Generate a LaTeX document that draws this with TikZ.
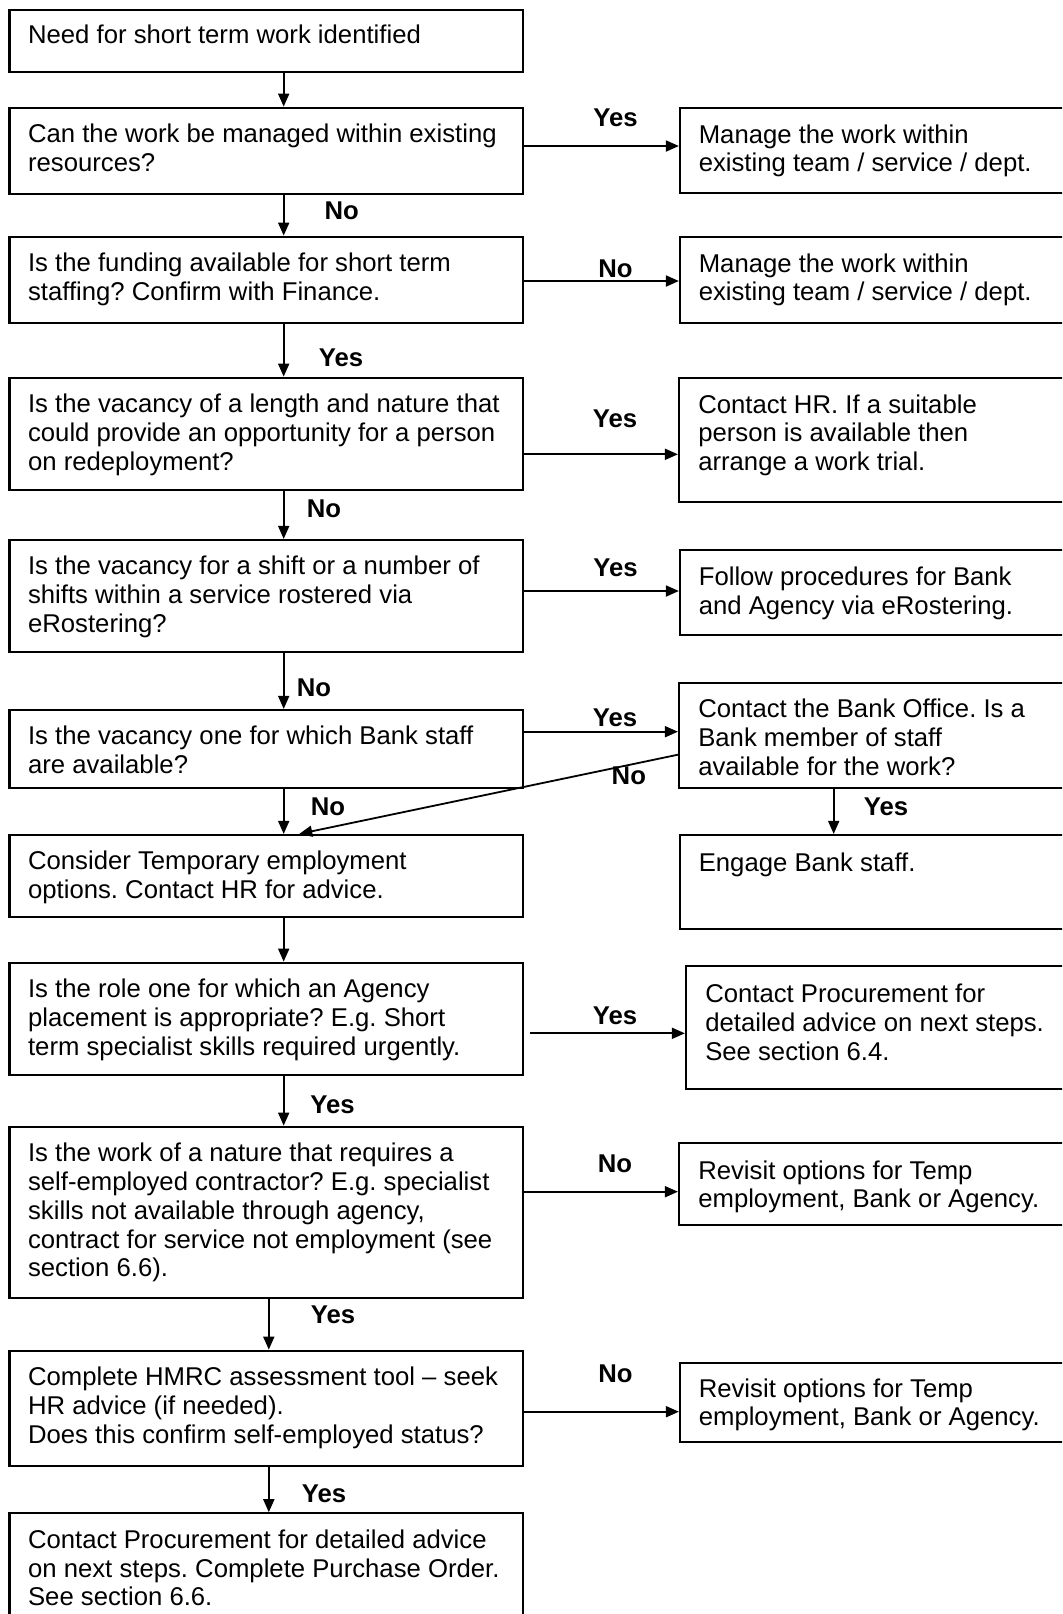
\documentclass[tikz,border=0pt]{standalone}
\usepackage{fontspec}
\setmainfont{Liberation Sans}
\frenchspacing
\usetikzlibrary{fit,arrows.meta}
\tikzset{
	box/.style={draw, line width=1.1pt, inner sep=0pt},
	txt/.style={anchor=north west, align=left, inner sep=0pt, font=\fontsize{12.85}{14.4}\selectfont},
	lbl/.style={inner sep=0pt, font=\fontsize{12.85}{14.4}\selectfont\bfseries},
	arr/.style={line width=0.9pt, -{Triangle[length=6.5pt,width=5.5pt]}},
}

\begin{document}
\begin{tikzpicture}[x=0.5pt, y=-0.5pt]
\fill[white] (0,0) rectangle (1062,1614);
\useasboundingbox (0,0) rectangle (1062,1614);
\clip (0,0) rectangle (1062,1614);
% left column
\node[box, fit={(9.5,10) (523,72.3)}] (need) {};
\node[box, fit={(9.5,107.7) (523,194)}] (existing) {};
\node[box, fit={(9.5,236.7) (523,322.7)}] (funding) {};
\node[box, fit={(9.5,377.7) (523,490)}] (redeploy) {};
\node[box, fit={(9.5,540) (523,651.7)}] (shift) {};
\node[box, fit={(9.5,710) (523,787.7)}] (bank) {};
\node[box, fit={(9.5,835) (523,917.3)}] (temp) {};
\node[box, fit={(9.5,962.7) (523,1075)}] (agency) {};
\node[box, fit={(9.5,1126.7) (523,1298.3)}] (selfemp) {};
\node[box, fit={(9.5,1350.7) (523,1465.7)}] (hmrc) {};
\node[box, fit={(9.5,1513.3) (523,1625)}] (procure) {};
\node[txt] (needt) at ([shift={(19.3,16)}]need.north west) {Need for short term work identified};
\node[txt] (existingt) at ([shift={(19.3,17)}]existing.north west) {Can the work be managed within existing\\resources?};
\node[txt] (fundingt) at ([shift={(19.3,17)}]funding.north west) {Is the funding available for short term\\staffing? Confirm with Finance.};
\node[txt] (redeployt) at ([shift={(19.3,17)}]redeploy.north west) {Is the vacancy of a length and nature that\\could provide an opportunity for a person\\on redeployment?};
\node[txt] (shiftt) at ([shift={(19.3,17)}]shift.north west) {Is the vacancy for a shift or a number of\\shifts within a service rostered via\\eRostering?};
\node[txt] (bankt) at ([shift={(19.3,17)}]bank.north west) {Is the vacancy one for which Bank staff\\are available?};
\node[txt] (tempt) at ([shift={(19.3,17)}]temp.north west) {Consider Temporary employment\\options. Contact HR for advice.};
\node[txt] (agencyt) at ([shift={(19.3,17)}]agency.north west) {Is the role one for which an Agency\\placement is appropriate? E.g. Short\\term specialist skills required urgently.};
\node[txt] (selfempt) at ([shift={(19.3,17)}]selfemp.north west) {Is the work of a nature that requires a\\self-employed contractor? E.g. specialist\\skills not available through agency,\\contract for service not employment (see\\section 6.6).};
\node[txt] (hmrct) at ([shift={(19.3,17)}]hmrc.north west) {Complete HMRC assessment tool -- seek\\HR advice (if needed).\\Does this confirm self-employed status?};
\node[txt] (procuret) at ([shift={(19.3,17)}]procure.north west) {Contact Procurement for detailed advice\\on next steps. Complete Purchase Order.\\See section 6.6.};
% right column
\node[box, fit={(680,107.7) (1070,193.3)}] (manageA) {};
\node[box, fit={(680,236.7) (1070,322.7)}] (manageB) {};
\node[box, fit={(679,377.7) (1070,501.7)}] (contacthr) {};
\node[box, fit={(680,550) (1070,635)}] (erostering) {};
\node[box, fit={(679,683.3) (1070,787.7)}] (bankoffice) {};
\node[box, fit={(680,835) (1070,929.3)}] (engage) {};
\node[box, fit={(686,966) (1070,1089)}] (procureA) {};
\node[box, fit={(679,1142.7) (1070,1225)}] (revisitA) {};
\node[box, fit={(680,1362.7) (1070,1442.3)}] (revisitB) {};
\node[txt] (manageAt) at ([shift={(19.5,17.5)}]manageA.north west) {Manage the work within\\existing team / service / dept.};
\node[txt] (manageBt) at ([shift={(19.5,17.5)}]manageB.north west) {Manage the work within\\existing team / service / dept.};
\node[txt] (contacthrt) at ([shift={(20,17.5)}]contacthr.north west) {Contact HR. If a suitable\\person is available then\\arrange a work trial.};
\node[txt] (erosteringt) at ([shift={(19.5,17.5)}]erostering.north west) {Follow procedures for Bank\\and Agency via eRostering.};
\node[txt] (bankofficet) at ([shift={(20,16.5)}]bankoffice.north west) {Contact the Bank Office. Is a\\Bank member of staff\\available for the work?};
\node[txt] (engaget) at ([shift={(19.5,19)}]engage.north west) {Engage Bank staff.};
\node[txt] (procureAt) at ([shift={(20,18.5)}]procureA.north west) {Contact Procurement for\\detailed advice on next steps.\\See section 6.4.};
\node[txt] (revisitAt) at ([shift={(20,18.5)}]revisitA.north west) {Revisit options for Temp\\employment, Bank or Agency.};
\node[txt] (revisitBt) at ([shift={(19.5,16.5)}]revisitB.north west) {Revisit options for Temp\\employment, Bank or Agency.};
% down the left column
\draw[arr] ([shift={(17.45,0)}]need.south) -- ([shift={(17.45,0)}]need.south |- existing.north);
\draw[arr] ([shift={(17.45,0)}]existing.south) -- node[lbl, anchor=west, shift={(40,-4.6)}] {No} ([shift={(17.45,0)}]existing.south |- funding.north);
\draw[arr] ([shift={(17.45,0)}]funding.south) -- node[lbl, anchor=west, shift={(34.3,7.8)}] {Yes} ([shift={(17.45,0)}]funding.south |- redeploy.north);
\draw[arr] ([shift={(17.45,0)}]redeploy.south) -- node[lbl, anchor=west, shift={(22.3,-6.7)}] {No} ([shift={(17.45,0)}]redeploy.south |- shift.north);
\draw[arr] ([shift={(17.45,0)}]shift.south) -- node[lbl, anchor=west, shift={(12.2,6.7)}] {No} ([shift={(17.45,0)}]shift.south |- bank.north);
\draw[arr] ([shift={(17.45,0)}]bank.south) -- node[lbl, anchor=west, shift={(26.3,-4.3)}] {No} ([shift={(17.45,0)}]bank.south |- temp.north);
\draw[arr] ([shift={(17.45,0)}]temp.south) -- ([shift={(17.45,0)}]temp.south |- agency.north);
\draw[arr] ([shift={(17.45,0)}]agency.south) -- node[lbl, anchor=west, shift={(25.7,3.9)}] {Yes} ([shift={(17.45,0)}]agency.south |- selfemp.north);
\draw[arr] ([shift={(2.55,0)}]selfemp.south) -- node[lbl, anchor=west, shift={(41.2,-9.5)}] {Yes} ([shift={(2.55,0)}]selfemp.south |- hmrc.north);
\draw[arr] ([shift={(2.55,0)}]hmrc.south) -- node[lbl, anchor=west, shift={(32.2,3.8)}] {Yes} ([shift={(2.55,0)}]hmrc.south |- procure.north);
% across to the right column
\draw[arr] ([shift={(0,-4.85)}]existing.east) -- node[lbl, anchor=south, shift={(14,-18)}] {Yes} ([shift={(0,-4.85)}]existing.east -| manageA.west);
\draw[arr] ([shift={(0,1.3)}]funding.east) -- node[lbl, anchor=south, shift={(14,-2.7)}] {No} ([shift={(0,1.3)}]funding.east -| manageB.west);
\draw[arr] ([shift={(0,20.45)}]redeploy.east) -- node[lbl, anchor=south, shift={(14,-25.3)}] {Yes} ([shift={(0,20.45)}]redeploy.east -| contacthr.west);
\draw[arr] ([shift={(0,-4.85)}]shift.east) -- node[lbl, anchor=south, shift={(14,-13.7)}] {Yes} ([shift={(0,-4.85)}]shift.east -| erostering.west);
\draw[arr] ([shift={(0,-17.15)}]bank.east) -- node[lbl, anchor=south, shift={(14,-4.4)}] {Yes} ([shift={(0,-17.15)}]bank.east -| bankoffice.west);
\draw[arr] ([shift={(5.8,14.45)}]agency.east) -- node[lbl, anchor=south, shift={(7.6,-7.6)}] {Yes} ([shift={(0,14.45)}]agency.east -| procureA.west);
\draw[arr] ([shift={(0,-20.8)}]selfemp.east) -- node[lbl, anchor=south, shift={(14,-17.7)}] {No} ([shift={(0,-20.8)}]selfemp.east -| revisitA.west);
\draw[arr] ([shift={(0,3.5)}]hmrc.east) -- node[lbl, anchor=south, shift={(14,-27.7)}] {No} ([shift={(0,3.5)}]hmrc.east -| revisitB.west);
% bank office
\draw[arr] ([shift={(155.8,0)}]bankoffice.south west) -- node[lbl, anchor=west, shift={(29.2,-5)}] {Yes} ([shift={(155.8,0)}]bankoffice.south west |- engage.north);
\draw[arr] ([shift={(0,19.2)}]bankoffice.west) -- node[lbl, pos=0, anchor=north east, shift={(-31,11)}] {No} ([shift={(33,0)}]temp.north);
\end{tikzpicture}
\end{document}
